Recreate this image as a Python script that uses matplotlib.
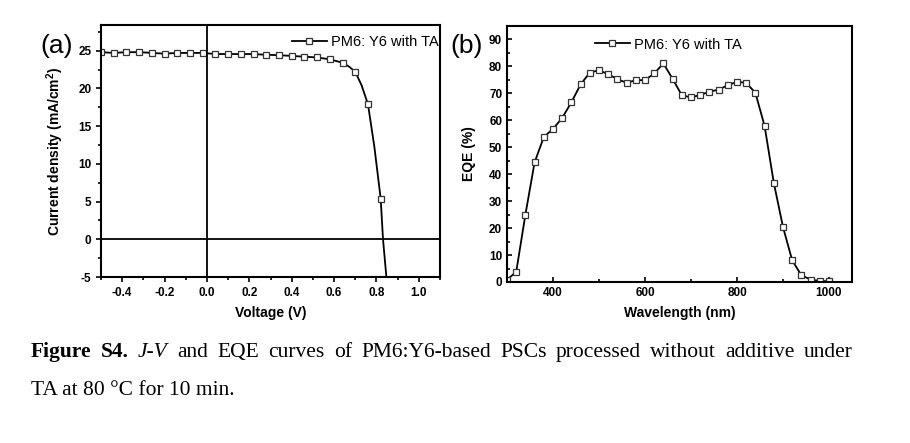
import matplotlib
matplotlib.use("Agg")
import matplotlib.pyplot as plt
from matplotlib.ticker import MultipleLocator

# ============ DATA ============
# J-V curve (panel a); markers every 0.06 V, extra line-only points near the knee
voltage = [-0.50, -0.44, -0.38, -0.32, -0.26, -0.20, -0.14, -0.08, -0.02,
           0.04, 0.10, 0.16, 0.22, 0.28, 0.34, 0.40, 0.46, 0.52, 0.58,
           0.64, 0.67, 0.70, 0.73, 0.76, 0.79, 0.82, 0.831, 0.847, 0.86]
current = [24.8, 24.7, 24.8, 24.8, 24.7, 24.6, 24.7, 24.7, 24.7,
           24.55, 24.55, 24.55, 24.55, 24.45, 24.4, 24.3, 24.2, 24.1, 23.85,
           23.4, 22.9, 22.2, 20.4, 17.9, 12.3, 5.4, 0.0, -5.0, -9.0]
jv_marker_idx = [0, 1, 2, 3, 4, 5, 6, 7, 8, 9, 10, 11, 12, 13, 14, 15, 16,
                 17, 18, 19, 21, 23, 25]

# EQE spectrum (panel b)
wavelength = [300, 320, 340, 360, 380, 400, 420, 440, 460, 480, 500, 520,
              540, 560, 580, 600, 620, 640, 660, 680, 700, 720, 740, 760,
              780, 800, 820, 840, 860, 880, 900, 920, 940, 960, 980, 1000]
eqe = [0.9, 3.7, 25.0, 44.4, 53.8, 56.8, 60.9, 66.7, 73.3, 77.7, 78.6, 77.1,
       75.3, 73.9, 74.9, 74.9, 77.4, 81.1, 75.4, 69.3, 68.5, 69.4, 70.6, 71.4,
       73.0, 74.3, 73.9, 70.2, 57.9, 36.8, 20.4, 8.0, 2.5, 0.9, 0.4, 0.25]

legend_label = "PM6: Y6 with TA"

W, H = 910, 443
SANS = "Liberation Sans"
SERIF = "Liberation Serif"

plt.rcParams["font.family"] = SANS
plt.rcParams["mathtext.fontset"] = "custom"
plt.rcParams["mathtext.rm"] = "Liberation Sans:bold"
plt.rcParams["mathtext.default"] = "rm"

fig = plt.figure(figsize=(W / 100, H / 100), dpi=100)
fig.patch.set_facecolor("white")


def px_axes(left, top, right, bottom):
    return fig.add_axes([left / W, 1 - bottom / H, (right - left) / W, (bottom - top) / H])


def style_axes(ax, direction):
    for s in ax.spines.values():
        s.set_linewidth(1.5)
    ax.tick_params(which="both", direction=direction, top=False, right=False,
                   width=1.2, labelsize=8.5)
    ax.tick_params(which="major", length=3.5)
    ax.tick_params(which="minor", length=2)
    for lab in ax.get_xticklabels() + ax.get_yticklabels():
        lab.set_fontweight("bold")


mk = dict(marker="s", markersize=5, markerfacecolor="white",
          markeredgecolor="#333333", markeredgewidth=0.9,
          color="black", linewidth=1.3)

# ---------- panel (a) ----------
ax1 = px_axes(101, 25, 440, 277)
ax1.plot(voltage, current, markevery=jv_marker_idx, label=legend_label, **mk)
ax1.axhline(0, color="black", linewidth=1.3)
ax1.axvline(0, color="black", linewidth=1.3)
ax1.set_xlim(-0.5, 1.1)
ax1.set_ylim(-5, 28.4)
ax1.xaxis.set_major_locator(MultipleLocator(0.2))
ax1.xaxis.set_minor_locator(MultipleLocator(0.1))
ax1.yaxis.set_major_locator(MultipleLocator(5))
ax1.yaxis.set_minor_locator(MultipleLocator(2.5))
ax1.set_xticks([-0.4, -0.2, 0.0, 0.2, 0.4, 0.6, 0.8, 1.0])
ax1.set_xticklabels(["-0.4", "-0.2", "0.0", "0.2", "0.4", "0.6", "0.8", "1.0"])
ax1.set_yticks([-5, 0, 5, 10, 15, 20, 25])
ax1.set_yticklabels(["-5", "0", "5", "10", "15", "20", "25"])
style_axes(ax1, "out")
ax1.set_xlabel("Voltage (V)", fontsize=10, fontweight="bold", labelpad=5)
ax1.set_ylabel("Current density (mA/cm$^2$)", fontsize=10, fontweight="bold", labelpad=9)
ax1.legend(loc="upper right", bbox_to_anchor=(0.997, 0.96), frameon=False,
           fontsize=10.5, handlelength=2.4, handletextpad=0.3, borderpad=0,
           borderaxespad=0)
fig.text(40 / W, 1 - 46 / H, "(a)", fontsize=19, ha="left", va="center")

# ---------- panel (b) ----------
ax2 = px_axes(507, 26, 852, 282)
ax2.plot(wavelength, eqe, label=legend_label, **mk)
ax2.set_xlim(300, 1050)
ax2.set_ylim(0, 95)
ax2.xaxis.set_major_locator(MultipleLocator(200))
ax2.xaxis.set_minor_locator(MultipleLocator(100))
ax2.yaxis.set_major_locator(MultipleLocator(10))
ax2.yaxis.set_minor_locator(MultipleLocator(5))
ax2.set_xticks([400, 600, 800, 1000])
ax2.set_yticks(list(range(0, 100, 10)))
style_axes(ax2, "in")
ax2.set_xlabel("Wavelength (nm)", fontsize=10, fontweight="bold", labelpad=5)
ax2.set_ylabel("EQE (%)", fontsize=10, fontweight="bold", labelpad=9)
ax2.legend(loc="upper left", bbox_to_anchor=(0.255, 0.955), frameon=False,
           fontsize=10.5, handlelength=2.4, handletextpad=0.3, borderpad=0,
           borderaxespad=0)
fig.text(450 / W, 1 - 46 / H, "(b)", fontsize=19, ha="left", va="center")

# ---------- caption ----------
line1 = [("Figure", "bold", "normal"), ("S4.", "bold", "normal"), ("J-V", "normal", "italic")]
line1 += [(w, "normal", "normal") for w in
          "and EQE curves of PM6:Y6-based PSCs processed without additive under".split()]
line2 = "TA at 80 \u00b0C for 10 min."
cap_size = 15.5

renderer = fig.canvas.get_renderer()
objs = []
for word, weight, style in line1:
    t = fig.text(0, 1 - 357 / H, word, fontsize=cap_size, family=SERIF,
                 fontweight=weight, fontstyle=style, va="baseline", ha="left")
    objs.append(t)
widths = [t.get_window_extent(renderer).width for t in objs]
x0, x1 = 31, 853
gap = (x1 - x0 - sum(widths)) / (len(objs) - 1)
x = x0
for t, w in zip(objs, widths):
    t.set_x(x / W)
    x += w + gap

fig.text(31 / W, 1 - 395 / H, line2, fontsize=cap_size, family=SERIF,
         va="baseline", ha="left")

fig.savefig("out.png", dpi=100, facecolor="white")
